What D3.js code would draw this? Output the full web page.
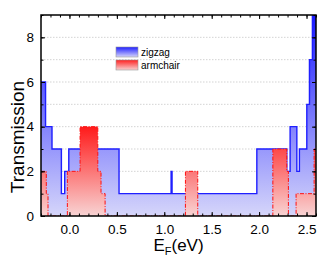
<!DOCTYPE html>
<html>
<head>
<meta charset="utf-8">
<script src="https://cdn.jsdelivr.net/npm/d3@7"></script>
<style>
  body { margin: 0; background: #fff; }
  svg { display: block; font-family: "Liberation Sans", Arial, sans-serif; }
</style>
</head>
<body>
<div id="chart"></div>
<script>
// step start energies (eV) and transmission values
const zigzagE = [-0.30, -0.252, -0.184, -0.085, -0.05, -0.007, 0.523, 1.072, 1.082, 1.976, 2.292, 2.327, 2.398, 2.425, 2.503, 2.531, 2.562, 2.60];
const zigzagT = [6, 4, 3, 1, 2, 3, 1, 2, 1, 3, 2, 4, 2, 3, 5, 7, 9.6, 9.6];
const armchairE = [-0.30, -0.244, -0.226, -0.022, 0.112, 0.299, 0.333, 0.376, 1.223, 1.353, 2.145, 2.292, 2.309, 2.39, 2.58, 2.60];
const armchairT = [2, 1, 0, 2, 4, 2, 1, 0, 2, 0, 3, 2, 0, 1, 3, 3];
const xTicks = [0.0, 0.5, 1.0, 1.5, 2.0, 2.5];
const yTicks = [0, 2, 4, 6, 8];
const seriesNames = ['zigzag', 'armchair'];

const W = 332, H = 263;
const margin = { top: 15, right: 16, bottom: 47, left: 41 };
const width = W - margin.left - margin.right;
const height = H - margin.top - margin.bottom;

const svg = d3.select('#chart').append('svg').attr('width', W).attr('height', H);
const defs = svg.append('defs');

const x = d3.scaleLinear().domain([-0.3, 2.6]).range([0, width]);
const y = d3.scaleLinear().domain([0, 9]).range([height, 0]);

function grad(id, top, bottom, y1, y2) {
  const g = defs.append('linearGradient').attr('id', id)
    .attr('gradientUnits', 'userSpaceOnUse')
    .attr('x1', 0).attr('x2', 0).attr('y1', y1).attr('y2', y2);
  g.append('stop').attr('offset', 0).attr('stop-color', top);
  g.append('stop').attr('offset', 1).attr('stop-color', bottom);
}
grad('gBlue', '#1a1aff', '#d6d6fa', y(9), y(0));
grad('gRed', '#ff1a1a', '#f8d4d4', y(4), y(0));

// legend swatch gradients
const lg1 = defs.append('linearGradient').attr('id', 'lBlue').attr('x1', 0).attr('x2', 0).attr('y1', 0).attr('y2', 1);
lg1.append('stop').attr('offset', 0).attr('stop-color', '#2020ff');
lg1.append('stop').attr('offset', 1).attr('stop-color', '#d4d4fa');
const lg2 = defs.append('linearGradient').attr('id', 'lRed').attr('x1', 0).attr('x2', 0).attr('y1', 0).attr('y2', 1);
lg2.append('stop').attr('offset', 0).attr('stop-color', '#ff2020');
lg2.append('stop').attr('offset', 1).attr('stop-color', '#f8d2d2');

defs.append('clipPath').attr('id', 'clip').append('rect')
  .attr('width', width).attr('height', height);

const g = svg.append('g').attr('transform', `translate(${margin.left},${margin.top})`);

// dotted grid lines at every integer
g.append('g').selectAll('line').data(d3.range(1, 9)).join('line')
  .attr('x1', 0).attr('x2', width)
  .attr('y1', d => y(d)).attr('y2', d => y(d))
  .attr('stroke', '#c8c8c8').attr('stroke-width', 0.8).attr('stroke-dasharray', '1.5,1.5');

const plot = g.append('g').attr('clip-path', 'url(#clip)');

function pts(E, T) { return E.map((e, i) => [e, T[i]]); }
const area = d3.area().curve(d3.curveStepAfter).x(d => x(d[0])).y0(y(0)).y1(d => y(d[1]));
const line = d3.line().curve(d3.curveStepAfter).x(d => x(d[0])).y(d => y(d[1]));

const zz = pts(zigzagE, zigzagT);
const ac = pts(armchairE, armchairT);

plot.append('path').datum(zz).attr('d', area).attr('fill', 'url(#gBlue)');
plot.append('path').datum(zz).attr('d', line).attr('fill', 'none')
  .attr('stroke', '#1f1fff').attr('stroke-width', 1.4);

plot.append('path').datum(ac).attr('d', area).attr('fill', 'url(#gRed)');
plot.append('path').datum(ac).attr('d', line).attr('fill', 'none')
  .attr('stroke', '#ff1010').attr('stroke-width', 1).attr('stroke-dasharray', '4,1.5,1,1.5');

// axes with inward ticks
const minorX = d3.range(-0.3, 2.61, 0.1).map(v => +v.toFixed(2));
const minorY = d3.range(0, 10, 1);

function ticksInward(sel, axis) {
  sel.call(axis);
  sel.select('.domain').remove();
}

const bottomMajor = g.append('g').attr('transform', `translate(0,${height})`);
ticksInward(bottomMajor, d3.axisBottom(x).tickValues(xTicks).tickSizeInner(-4).tickSizeOuter(0).tickPadding(8).tickFormat(d3.format('.1f')));
const bottomMinor = g.append('g').attr('transform', `translate(0,${height})`);
ticksInward(bottomMinor, d3.axisBottom(x).tickValues(minorX).tickSize(-2.5).tickFormat(''));
const topMinor = g.append('g');
ticksInward(topMinor, d3.axisTop(x).tickValues(minorX).tickSize(-2.5).tickFormat(''));
const topMajor = g.append('g');
ticksInward(topMajor, d3.axisTop(x).tickValues(xTicks).tickSize(-4).tickFormat(''));

const leftMajor = g.append('g');
ticksInward(leftMajor, d3.axisLeft(y).tickValues(yTicks).tickSizeInner(-4).tickSizeOuter(0).tickPadding(7).tickFormat(d3.format('d')));
const leftMinor = g.append('g');
ticksInward(leftMinor, d3.axisLeft(y).tickValues(minorY).tickSize(-2.5).tickFormat(''));
const rightMajor = g.append('g').attr('transform', `translate(${width},0)`);
ticksInward(rightMajor, d3.axisRight(y).tickValues(yTicks).tickSize(-4).tickFormat(''));
const rightMinor = g.append('g').attr('transform', `translate(${width},0)`);
ticksInward(rightMinor, d3.axisRight(y).tickValues(minorY).tickSize(-2.5).tickFormat(''));

g.selectAll('.tick line').attr('stroke', '#000').attr('stroke-width', 1);
g.selectAll('.tick text').attr('font-size', 13.5).attr('fill', '#000')
  .attr('font-family', '"Liberation Sans", Arial, sans-serif');

g.append('rect').attr('width', width).attr('height', height)
  .attr('fill', 'none').attr('stroke', '#000').attr('stroke-width', 1.5);

// axis titles
svg.append('text')
  .attr('transform', 'translate(24,137) rotate(-90)')
  .attr('text-anchor', 'middle').attr('font-size', 19).text('Transmission');

const xt = svg.append('text').attr('x', margin.left + width / 2).attr('y', 251)
  .attr('text-anchor', 'middle').attr('font-size', 17);
xt.append('tspan').text('E');
xt.append('tspan').attr('font-size', 11).attr('dy', 4).text('F');
xt.append('tspan').attr('dy', -4).text('(eV)');

// legend
const leg = svg.append('g').attr('transform', 'translate(116,47)');
const fills = ['url(#lBlue)', 'url(#lRed)'];
seriesNames.forEach((name, i) => {
  const row = leg.append('g').attr('transform', `translate(0,${i * 13})`);
  row.append('rect').attr('width', 22).attr('height', 10)
    .attr('fill', fills[i]).attr('stroke', '#999').attr('stroke-width', 0.6);
  row.append('text').attr('x', 25).attr('y', 8.5).attr('font-size', 10).text(name);
});
</script>
</body>
</html>
